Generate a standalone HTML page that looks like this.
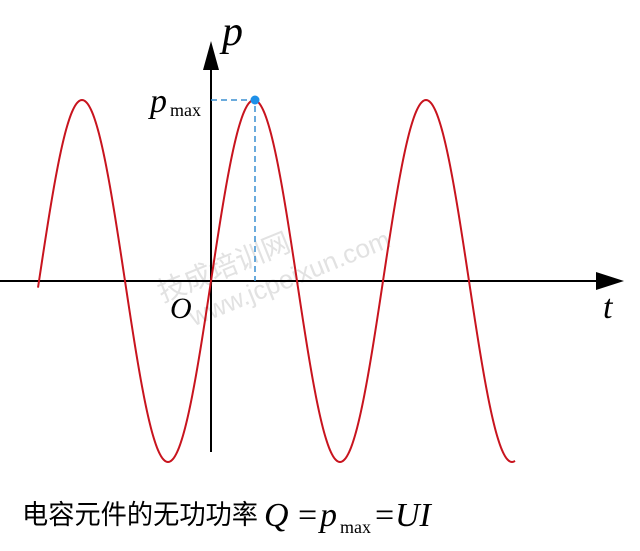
<!DOCTYPE html>
<html><head><meta charset="utf-8"><style>
html,body{margin:0;padding:0;background:#fff;}
svg{display:block;}
</style></head><body>
<svg width="640" height="551" viewBox="0 0 640 551" xmlns="http://www.w3.org/2000/svg">
<rect width="640" height="551" fill="#fff"/>
<g transform="rotate(-22 260 250)" fill="#e2e2e2" font-family="'Liberation Sans','Noto Sans CJK SC',sans-serif" font-size="28">
<text x="150" y="262">技成培训网</text>
<text x="170" y="296" font-size="26">www.jcpeixun.com</text>
</g>
<line x1="0" y1="281" x2="600" y2="281" stroke="#000" stroke-width="2"/>
<polygon points="624,281 596,272 596,290" fill="#000"/>
<line x1="211" y1="452" x2="211" y2="66" stroke="#000" stroke-width="2"/>
<polygon points="211,41 203,70 219,70" fill="#000"/>
<path d="M211 100 H255 V281" stroke="#3a8fd0" stroke-width="1.5" stroke-dasharray="6,4" fill="none"/>
<path id="s" stroke="#c8141e" stroke-width="2" fill="none"/>
<circle cx="255" cy="100" r="4.5" fill="#1e90e8"/>
<g font-family="'Liberation Serif',serif" font-style="italic">
<text x="222" y="45" font-size="42">p</text>
<text x="150" y="112" font-size="34">p</text>
<text x="170" y="318" font-size="30">O</text>
<text x="603" y="318" font-size="34">t</text>
</g>
<text x="170" y="116" font-family="'Liberation Serif',serif" font-size="18">max</text>
<text x="22" y="524" font-family="'Liberation Sans','Noto Sans CJK SC',sans-serif" font-size="27" textLength="236" lengthAdjust="spacingAndGlyphs">电容元件的无功功率</text>
<g font-family="'Liberation Serif',serif" font-size="34">
<text x="264" y="526" font-style="italic">Q</text>
<text x="298" y="526">=</text>
<text x="320" y="526" font-style="italic">p</text>
<text x="340" y="533" font-size="18">max</text>
<text x="375" y="526">=</text>
<text x="395" y="526" font-style="italic">UI</text>
</g>
</svg>
<script>
var d="";for(var x=38;x<=515;x+=1){var y=281-181*Math.sin(2*Math.PI*(x-211)/172);d+=(x==38?"M":"L")+x+" "+y.toFixed(2)+" ";}
document.getElementById("s").setAttribute("d",d);
</script>
</body></html>
